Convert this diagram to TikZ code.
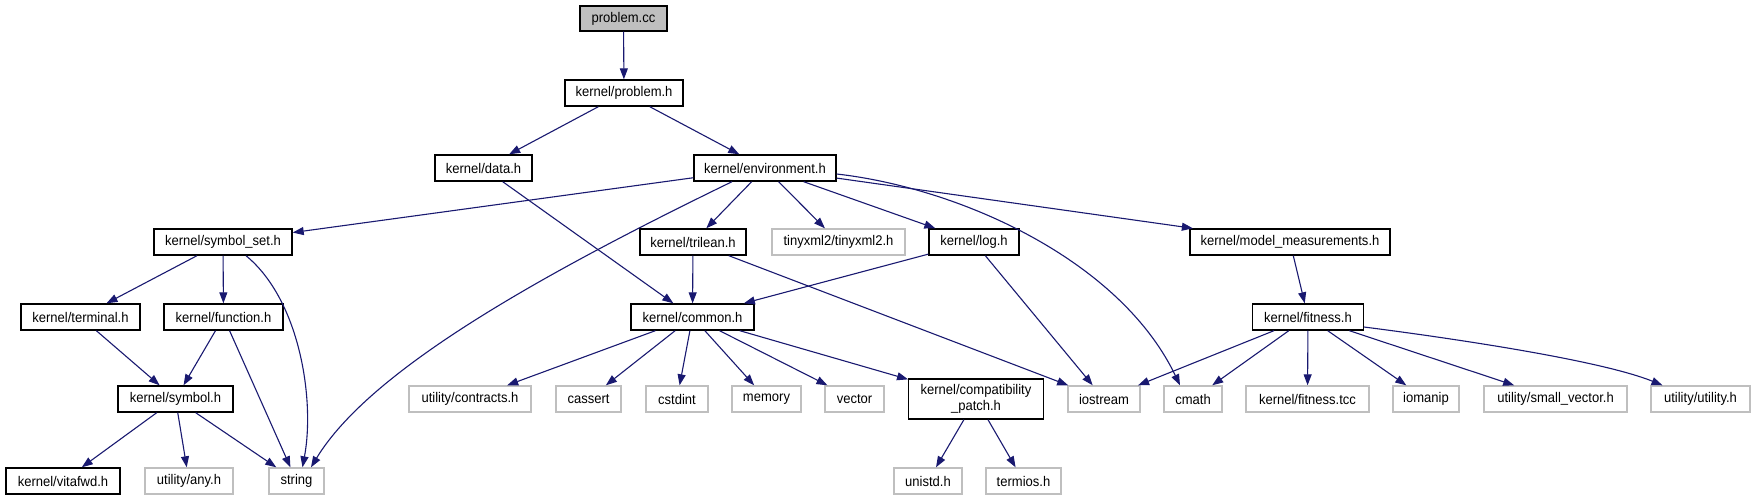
\documentclass[tikz,border=0pt]{standalone}
\usepackage{fontspec}
\setmainfont{Liberation Sans}[FakeStretch=0.93]
\usetikzlibrary{arrows.meta}
\definecolor{edgeblue}{HTML}{191970}
\definecolor{greyline}{HTML}{BFBFBF}
\definecolor{rootfill}{HTML}{BFBFBF}
\begin{document}
\begin{tikzpicture}[x=1pt,y=-1pt,
  doc/.style={draw=black, line width=1.4pt, fill=white, inner sep=0pt,
    minimum height=26pt, font=\fontsize{14}{16}\selectfont, anchor=center},
  ext/.style={doc, draw=greyline},
  dep/.style={draw=edgeblue, line width=1.1pt, -{Triangle[length=11pt,width=8pt]}}]
\useasboundingbox (0,0) rectangle (1756,500);
% row 0
\node[doc, fill=rootfill, minimum width=87pt, minimum height=25pt] (pcc) at (623.5,18.5) {problem.cc};
% row 1
\node[doc, minimum width=118pt] (ph) at (624,93) {kernel/problem.h};
% row 2
\node[doc, minimum width=97pt] (data) at (483.5,168) {kernel/data.h};
\node[doc, minimum width=142pt] (env) at (765,168) {kernel/environment.h};
% row 3
\node[doc, minimum width=138pt] (sset) at (223,242) {kernel/symbol\_set.h};
\node[doc, minimum width=106pt] (tri) at (693,242) {kernel/trilean.h};
\node[ext, minimum width=133pt] (txml) at (838.5,242) {tinyxml2/tinyxml2.h};
\node[doc, minimum width=90pt] (log) at (974,242) {kernel/log.h};
\node[doc, minimum width=200pt] (mm) at (1290,242) {kernel/model\_measurements.h};
% row 4
\node[doc, minimum width=119pt] (term) at (80.5,317) {kernel/terminal.h};
\node[doc, minimum width=119pt] (func) at (223.5,317) {kernel/function.h};
\node[doc, minimum width=123pt] (common) at (692.5,317) {kernel/common.h};
\node[doc, minimum width=110.5pt] (fit) at (1308,317) {kernel/fitness.h};
% row 5
\node[doc, minimum width=115pt] (sym) at (175.5,399) {kernel/symbol.h};
\node[ext, minimum width=122pt] (contr) at (470,399) {utility/contracts.h};
\node[ext, minimum width=65pt] (cassert) at (588.5,399) {cassert};
\node[ext, minimum width=62pt] (cstdint) at (677,399) {cstdint};
\node[ext, minimum width=69pt] (memory) at (766.5,399) {memory};
\node[ext, minimum width=59pt] (vector) at (854.5,399) {vector};
\node[doc, minimum width=134.5pt, minimum height=40pt, align=center,
  font=\fontsize{14}{15.5}\selectfont] (compat) at (976,399) {kernel/compatibility\\\_patch.h};
\node[ext, minimum width=72pt] (iostream) at (1104,399) {iostream};
\node[ext, minimum width=58pt] (cmath) at (1193,399) {cmath};
\node[ext, minimum width=123pt] (ftcc) at (1307.5,399) {kernel/fitness.tcc};
\node[ext, minimum width=66pt] (iomanip) at (1426,399) {iomanip};
\node[ext, minimum width=143pt] (svec) at (1555.5,399) {utility/small\_vector.h};
\node[ext, minimum width=99pt] (util) at (1700.5,399) {utility/utility.h};
% row 6
\node[doc, minimum width=114pt] (vfwd) at (63,481) {kernel/vitafwd.h};
\node[ext, minimum width=88pt] (any) at (189,481) {utility/any.h};
\node[ext, minimum width=55pt] (string) at (296.5,481) {string};
\node[ext, minimum width=68pt] (unistd) at (928,481) {unistd.h};
\node[ext, minimum width=75pt] (termios) at (1023.5,481) {termios.h};
% edges
\draw[dep] (pcc) -- (ph);
\draw[dep] (ph) -- (data);
\draw[dep] (ph) -- (env);
\draw[dep] (data) -- (common);
\draw[dep] (env) -- (sset);
\draw[dep] ([xshift=-33pt]env.south) .. controls (540,275) and (370,370) .. ([xshift=14.5pt]string.north);
\draw[dep] (env) -- (tri);
\draw[dep] (env) -- (txml);
\draw[dep] (env) -- (log);
\draw[dep] ([yshift=-6pt]env.east) .. controls (960,188) and (1120,260) .. ([xshift=-13pt]cmath.north);
\draw[dep] (env) -- (mm);
\draw[dep] (sset) -- (term);
\draw[dep] (sset) -- (func);
\draw[dep] ([xshift=23pt]sset.south) .. controls (300,300) and (315,400) .. ([xshift=6pt]string.north);
\draw[dep] (tri) -- (common);
\draw[dep] (tri) -- (iostream);
\draw[dep] (log) -- (common);
\draw[dep] (log) -- (iostream);
\draw[dep] (mm) -- (fit);
\draw[dep] (term) -- (sym);
\draw[dep] (func) -- (sym);
\draw[dep] (func) -- (string);
\draw[dep] (sym) -- (vfwd);
\draw[dep] (sym) -- (any);
\draw[dep] (sym) -- (string);
\draw[dep] (common) -- (contr);
\draw[dep] (common) -- (cassert);
\draw[dep] (common) -- (cstdint);
\draw[dep] (common) -- (memory);
\draw[dep] (common) -- (vector);
\draw[dep] (common) -- (compat);
\draw[dep] (compat) -- (unistd);
\draw[dep] (compat) -- (termios);
\draw[dep] (fit) -- (iostream);
\draw[dep] (fit) -- (cmath);
\draw[dep] (fit) -- (ftcc);
\draw[dep] (fit) -- (iomanip);
\draw[dep] (fit) -- (svec);
\draw[dep] ([yshift=-10pt]fit.east) .. controls (1450,338) and (1600,360) .. ([xshift=-38pt]util.north);
\end{tikzpicture}
\end{document}
